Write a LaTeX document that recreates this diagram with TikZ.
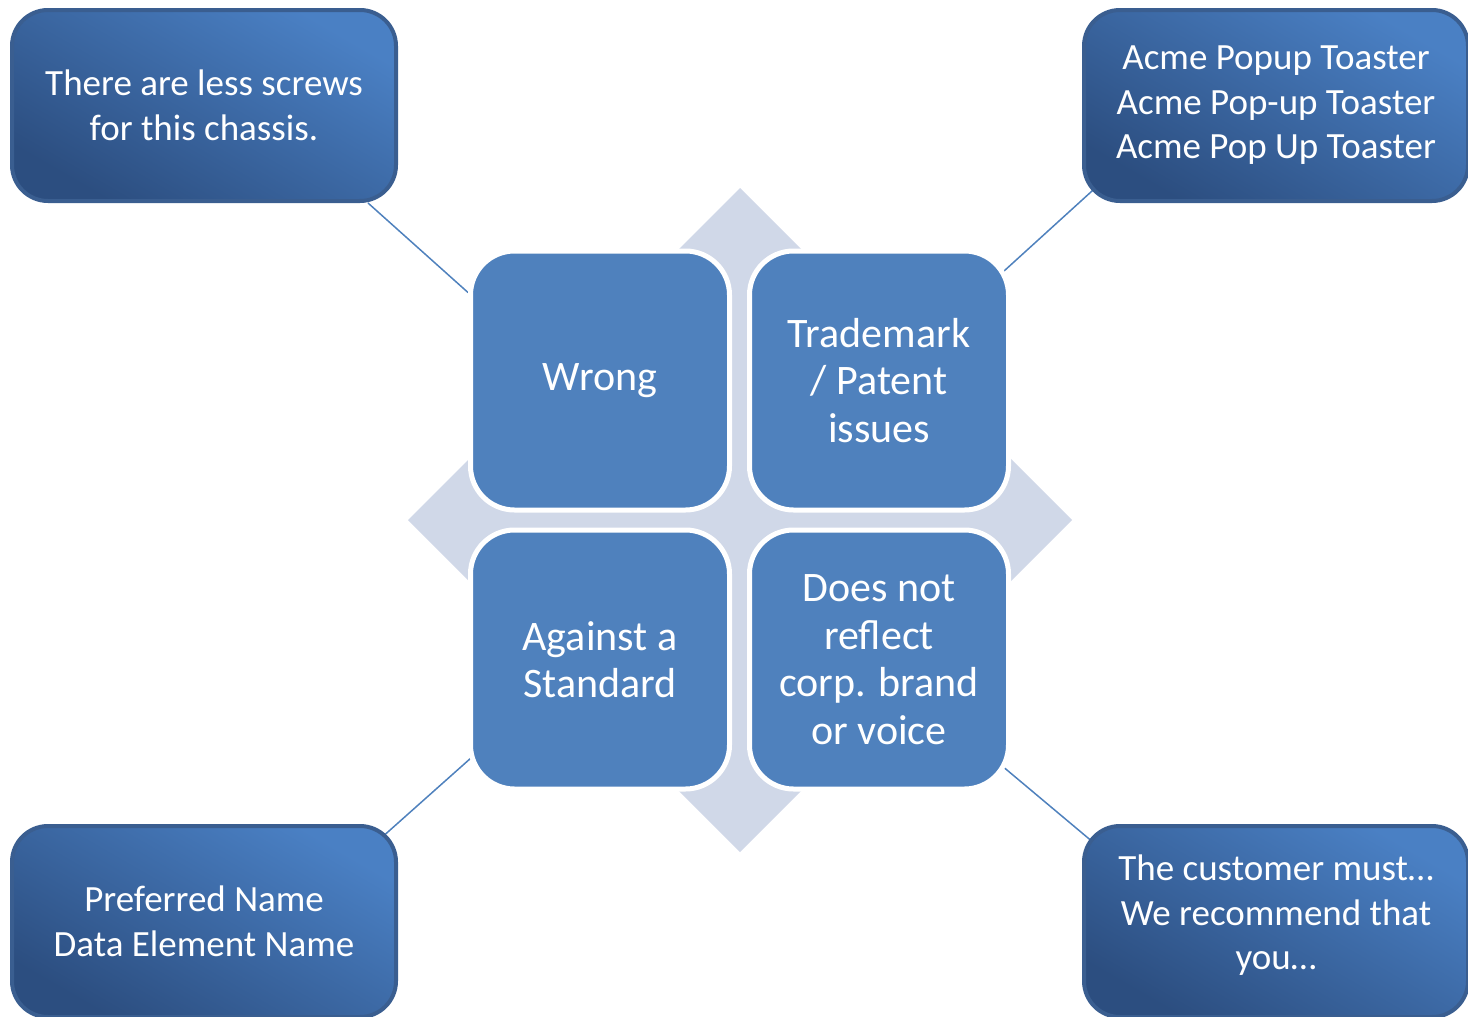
\documentclass[tikz,border=0pt]{standalone}
\usepackage{fontspec}
\setmainfont{Carlito}
\usetikzlibrary{calc,backgrounds}
\definecolor{boxblue}{HTML}{4F81BD}
\definecolor{diam}{HTML}{D0D8E8}
\definecolor{cornerlight}{HTML}{4A80C4}
\definecolor{cornerdark}{HTML}{2C4E80}
\definecolor{cornerborder}{HTML}{3A5E90}
\begin{document}
\begin{tikzpicture}[x=1pt,y=1pt,
  corner/.style={rounded corners=36pt, draw=cornerborder, line width=4pt,
    top color=cornerlight, bottom color=cornerdark, shading angle=-30,
    minimum width=384pt, minimum height=191pt, text=white, align=center,
    font=\fontsize{37}{44.5}\selectfont, inner sep=0pt},
  innerbox/.style={rounded corners=44pt, draw=white, line width=5pt, fill=boxblue,
    minimum width=259pt, minimum height=259pt, text=white, align=center,
    font=\fontsize{42}{47.5}\selectfont, inner sep=0pt},
  conn/.style={draw=boxblue, line width=1.5pt}]
\useasboundingbox (0,0) rectangle (1468,-1017);
\clip (0,0) rectangle (1468,-1017);

\node[corner] (tl) at (204,-105.5) {There are less screws\\for this chassis.};
\node[corner] (tr) at (1276,-105.5) {Acme Popup Toaster\\Acme Pop-up Toaster\\Acme Pop Up Toaster};
\node[corner] (bl) at (204,-921.5) {Preferred Name\\Data Element Name};
\node[corner] (br) at (1276,-921.5) {};
\node[text=white, align=center, font=\fontsize{37}{44.5}\selectfont, inner sep=0pt]
  (brtext) at ($(br.center)+(0,6)$) {The customer must…\\We recommend that\\you…};

\node[innerbox] (wrong) at (600,-380.5) {Wrong};
\node[innerbox] (tm) at (879,-380.5) {Trademark\\/ Patent\\issues};
\node[innerbox] (ag) at (600,-659.5) {Against a\\Standard};
\node[innerbox] (dn) at (879,-659.5) {Does not\\reflect\\corp. brand\\or voice};

\begin{scope}[on background layer]
  \fill[diam] (740,-188) -- (1072,-520) -- (740,-852) -- (408,-520) -- cycle;
  \draw[conn] ($(tl.south east)+(-30,0)$) -- ($(wrong.west)+(0,88)$);
  \draw[conn] ($(tr.south west)+(21,22)$) -- ($(tm.north east)+(-13,-28)$);
  \draw[conn] ($(bl.north east)+(-18,-15)$) -- ($(ag.south west)+(8,38)$);
  \draw[conn] ($(dn.south east)+(-13,29)$) -- ($(br.north west)+(12,-19)$);
\end{scope}
\end{tikzpicture}
\end{document}
